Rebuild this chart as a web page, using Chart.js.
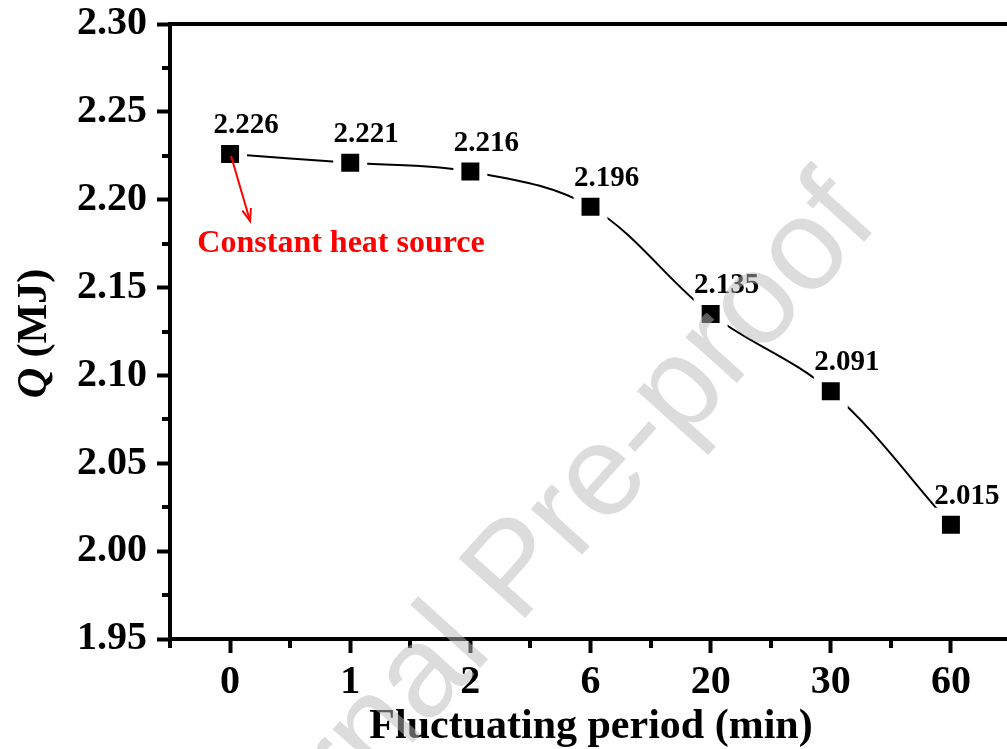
<!DOCTYPE html>
<html><head><meta charset="utf-8">
<script src="https://cdn.jsdelivr.net/npm/chart.js@4.4.1/dist/chart.umd.min.js"></script>
<style>html,body{margin:0;padding:0;overflow:hidden;background:#fff}#clip{width:1007px;height:749px;overflow:hidden;position:relative}#wrap{width:1020px;height:749px;position:relative}</style>
</head><body><div id="clip"><div id="wrap"><canvas id="c"></canvas></div></div>
<script>
// ---- data ----
const categories = ['0', '1', '2', '6', '20', '30', '60'];
const qValues = [2.226, 2.221, 2.216, 2.196, 2.135, 2.091, 2.015];
const pointLabels = ['2.226', '2.221', '2.216', '2.196', '2.135', '2.091', '2.015'];
const yMin = 1.95, yMax = 2.30, yStep = 0.05;
const xTitle = 'Fluctuating period (min)';
const yTitleSymbol = 'Q';
const yTitleUnit = ' (MJ)';
const annotationText = 'Constant heat source';
const watermarkFirst = 'Journal ';
const watermarkSecond = 'Pre-proof';

const SERIF = '"Liberation Serif","Times New Roman",serif';
const SANS = '"Liberation Sans",Arial,sans-serif';

const decor = {
  id: 'decor',
  afterDatasetsDraw(chart) {
    const ctx = chart.ctx, ca = chart.chartArea;
    const xs = chart.scales.x, ys = chart.scales.y;
    ctx.save();
    ctx.strokeStyle = '#000'; ctx.lineWidth = 4; ctx.lineCap = 'butt';
    ctx.beginPath();
    ctx.moveTo(ca.left, ca.top); ctx.lineTo(ca.right, ca.top);
    ctx.moveTo(ca.right, ca.top); ctx.lineTo(ca.right, ca.bottom);
    ctx.stroke();
    ctx.beginPath();
    for (let v = yMin + yStep / 2; v < yMax; v += yStep) {
      const y = Math.round(ys.getPixelForValue(v));
      ctx.moveTo(ca.left - 8, y); ctx.lineTo(ca.left, y);
    }
    const half = (xs.getPixelForValue(1) - xs.getPixelForValue(0)) / 2;
    for (let i = 0; i <= categories.length; i++) {
      const x = Math.round(xs.getPixelForValue(i) - half);
      ctx.moveTo(x, ca.bottom); ctx.lineTo(x, ca.bottom + 9);
    }
    ctx.stroke();

    const meta = chart.getDatasetMeta(1);
    ctx.fillStyle = '#000';
    ctx.font = 'bold 29px ' + SERIF;
    ctx.textAlign = 'center'; ctx.textBaseline = 'alphabetic';
    meta.data.forEach((pt, i) => {
      ctx.fillText(pointLabels[i], pt.x + 16, pt.y - 21);
    });

    const p0 = meta.data[0];
    const ax0 = p0.x + 1, ay0 = p0.y + 2, ax1 = p0.x + 20, ay1 = p0.y + 67;
    ctx.strokeStyle = '#ff0000'; ctx.lineWidth = 2;
    ctx.beginPath(); ctx.moveTo(ax0, ay0); ctx.lineTo(ax1, ay1); ctx.stroke();
    const ang = Math.atan2(ay1 - ay0, ax1 - ax0);
    ctx.beginPath();
    ctx.moveTo(ax1 - 13 * Math.cos(ang - 0.35), ay1 - 13 * Math.sin(ang - 0.35));
    ctx.lineTo(ax1, ay1);
    ctx.lineTo(ax1 - 13 * Math.cos(ang + 0.35), ay1 - 13 * Math.sin(ang + 0.35));
    ctx.stroke();
    ctx.fillStyle = '#ff0000';
    ctx.font = 'bold 32px ' + SERIF;
    ctx.textAlign = 'center';
    ctx.fillText(annotationText, p0.x + 111, p0.y + 98);

    ctx.fillStyle = '#000';
    ctx.font = 'bold 42px ' + SERIF;
    ctx.textAlign = 'center';
    ctx.fillText(xTitle, 591, 738);

    ctx.save();
    ctx.translate(46, (ca.top + ca.bottom) / 2 + 2);
    ctx.rotate(-Math.PI / 2);
    const fSym = 'italic bold 42px ' + SERIF, fUnit = 'bold 42px ' + SERIF;
    ctx.font = fSym; const w1 = ctx.measureText(yTitleSymbol).width;
    ctx.font = fUnit; const w2 = ctx.measureText(yTitleUnit).width;
    ctx.textAlign = 'left';
    ctx.font = fSym; ctx.fillText(yTitleSymbol, -(w1 + w2) / 2, 0);
    ctx.font = fUnit; ctx.fillText(yTitleUnit, -(w1 + w2) / 2 + w1, 0);
    ctx.restore();
    ctx.restore();
  },
  afterDraw(chart) {
    const ctx = chart.ctx;
    ctx.save();
    ctx.translate(518, 626);
    ctx.rotate(-48 * Math.PI / 180);
    ctx.font = '130px ' + SANS;
    ctx.fillStyle = 'rgba(185,185,185,0.5)';
    ctx.textBaseline = 'alphabetic';
    ctx.textAlign = 'right'; ctx.fillText(watermarkFirst, 0, 0);
    ctx.textAlign = 'left'; ctx.fillText(watermarkSecond, 0, 0);
    ctx.restore();
  }
};

new Chart(document.getElementById('c'), {
  type: 'line',
  data: {
    labels: categories,
    datasets: [
      {
        data: qValues, order: 2,
        borderColor: '#000', borderWidth: 2, tension: 0.35,
        pointStyle: 'rect', pointRadius: 24, pointBackgroundColor: '#fff',
        pointBorderWidth: 0, pointBorderColor: '#fff', pointHoverRadius: 24
      },
      {
        data: qValues, order: 1, showLine: false,
        pointStyle: 'rect', pointRadius: 12.7, pointBackgroundColor: '#000',
        pointBorderWidth: 0, pointBorderColor: '#000', pointHoverRadius: 12.7
      }
    ]
  },
  options: {
    responsive: true, maintainAspectRatio: false, animation: false,
    events: [],
    layout: { autoPadding: false, padding: { top: 24, right: 9, left: 0, bottom: 0 } },
    plugins: { legend: { display: false }, tooltip: { enabled: false } },
    scales: {
      x: {
        type: 'category', offset: true,
        grid: { display: true, drawOnChartArea: false, drawTicks: true, tickLength: 14, tickWidth: 4, tickColor: '#000', offset: false },
        border: { display: true, color: '#000', width: 4 },
        ticks: { color: '#000', font: { family: SERIF, size: 40, weight: 'bold' }, padding: 6, maxRotation: 0, autoSkip: false },
        afterFit: s => { s.height = 110; s.paddingLeft = 0; s.paddingRight = 0; }
      },
      y: {
        min: yMin, max: yMax,
        grid: { display: true, drawOnChartArea: false, drawTicks: true, tickLength: 13, tickWidth: 4, tickColor: '#000' },
        border: { display: true, color: '#000', width: 4 },
        ticks: { stepSize: yStep, color: '#000', font: { family: SERIF, size: 40, weight: 'bold' }, padding: 10,
                 callback: v => Number(v).toFixed(2) },
        afterFit: s => { s.width = 170; s.paddingTop = 0; s.paddingBottom = 0; }
      }
    }
  },
  plugins: [decor]
});
</script>
</body></html>
